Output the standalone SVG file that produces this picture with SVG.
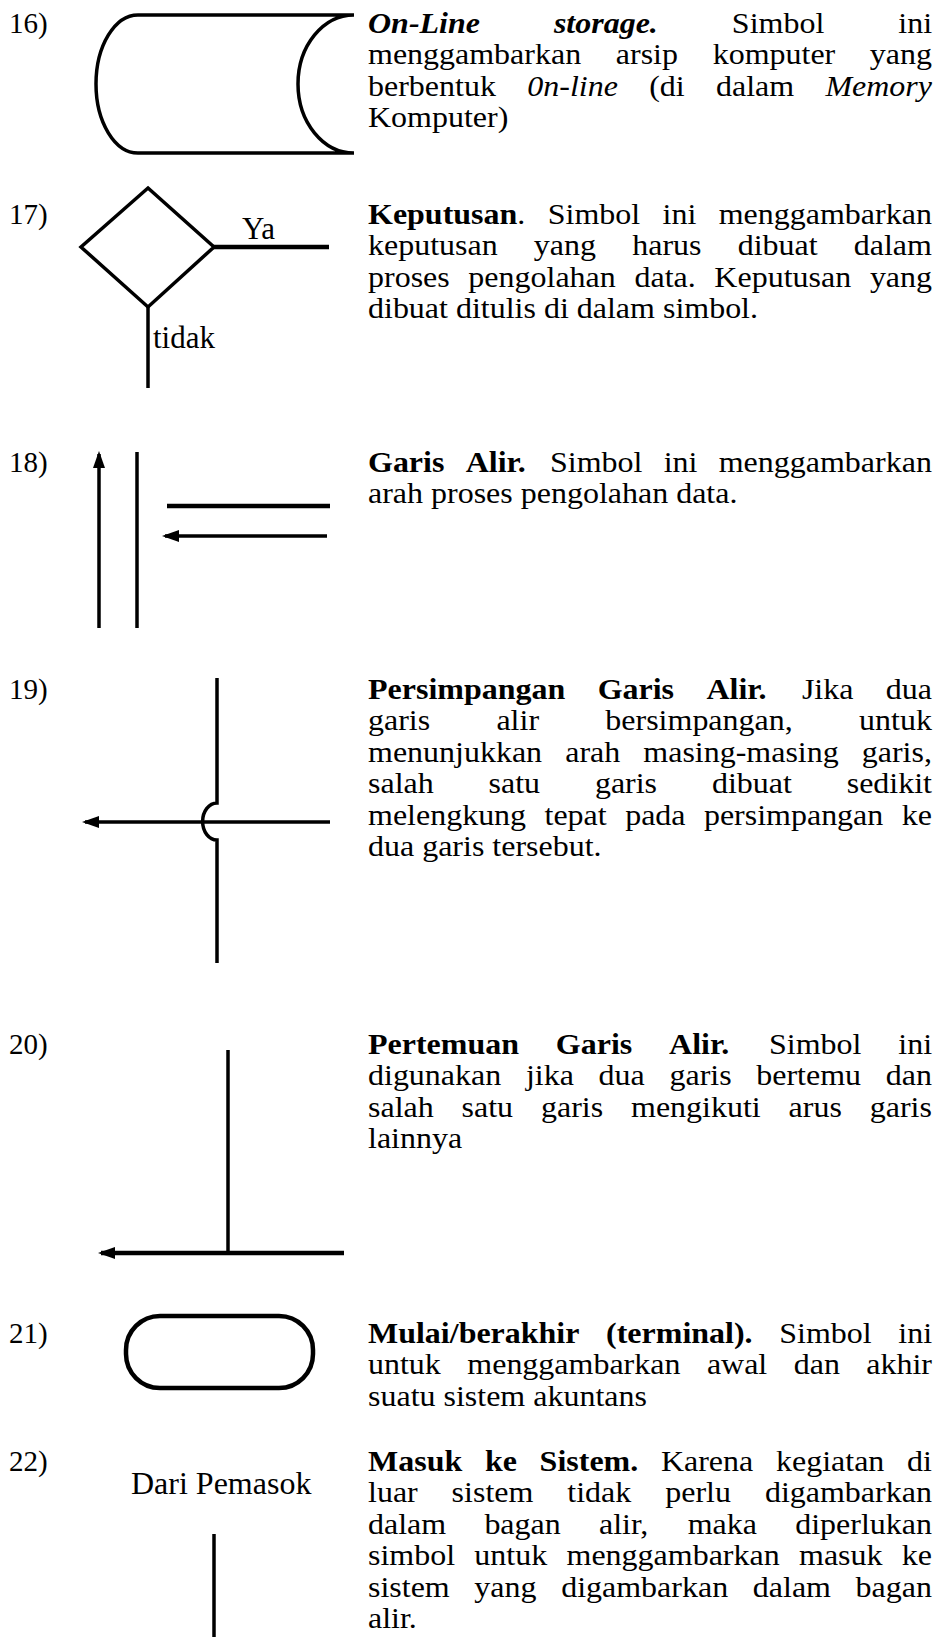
<svg xmlns="http://www.w3.org/2000/svg" width="936" height="1637" viewBox="0 0 936 1637">
<style>
text{font-family:"Liberation Serif","Times New Roman",serif;font-size:30px;fill:#000}
.num{font-size:29px}
.lab{font-size:31px}
.b{font-weight:bold}
.i{font-style:italic}
.bi{font-weight:bold;font-style:italic}
.s{fill:none;stroke:#000;stroke-width:3.5}
.w{fill:none;stroke:#000;stroke-width:4.5}
</style>
<defs>
<marker id="ah" markerUnits="userSpaceOnUse" markerWidth="18" markerHeight="14" refX="14" refY="6" orient="auto">
<path d="M0,0 L17,6 L0,12 Z" fill="#000"/>
</marker>
</defs>
<rect width="936" height="1637" fill="#fff"/>

<g id="item16">
<text class="num" x="9" y="33">16)</text>
<path class="s" d="M138,15 L354,15 A56,69 0 0 0 354,153 L138,153 A42,69 0 0 1 138,15 Z"/>
<g transform="translate(368,0) scale(1.0667,1)">
<text y="33"><tspan x="0" class="bi">On-Line</tspan><tspan x="174.3" class="bi">storage.</tspan><tspan x="341.1">Simbol</tspan><tspan x="497.1">ini</tspan></text>
<text y="64.5"><tspan x="0">menggambarkan</tspan><tspan x="232.3">arsip</tspan><tspan x="323.1">komputer</tspan><tspan x="470.4">yang</tspan></text>
<text y="96"><tspan x="0">berbentuk</tspan><tspan x="149.3" class="i">0n-line</tspan><tspan x="263.6">(di</tspan><tspan x="326.2">dalam</tspan><tspan x="428.8" class="i">Memory</tspan></text>
<text x="0" y="127.5">Komputer)</text>
</g>
</g>

<g id="item17">
<text class="num" x="9" y="224">17)</text>
<polygon class="s" points="148,188 214,247 148,307 81,247"/>
<text class="lab" x="242" y="239">Ya</text>
<text class="lab" x="153" y="348">tidak</text>
<g transform="translate(368,0) scale(1.0667,1)">
<text y="224"><tspan x="0" class="b">Keputusan</tspan>.<tspan x="168.5">Simbol</tspan><tspan x="276.2">ini</tspan><tspan x="328.8">menggambarkan</tspan></text>
<text y="255.5"><tspan x="0">keputusan</tspan><tspan x="155.5">yang</tspan><tspan x="247.7">harus</tspan><tspan x="346.6">dibuat</tspan><tspan x="455.4">dalam</tspan></text>
<text y="287"><tspan x="0">proses</tspan><tspan x="94.1">pengolahan</tspan><tspan x="249.8">data.</tspan><tspan x="324.7">Keputusan</tspan><tspan x="470.5">yang</tspan></text>
<text x="0" y="318.5">dibuat ditulis di dalam simbol.</text>
</g>
</g>

<g id="item18">
<text class="num" x="9" y="472">18)</text>
<g transform="translate(368,0) scale(1.0667,1)">
<text y="472"><tspan x="0" class="b">Garis</tspan><tspan x="91.6" class="b">Alir.</tspan><tspan x="170.6">Simbol</tspan><tspan x="277.2">ini</tspan><tspan x="328.8">menggambarkan</tspan></text>
<text x="0" y="503.5">arah proses pengolahan data.</text>
</g>
</g>

<g id="item19">
<text class="num" x="9" y="699">19)</text>
<g transform="translate(368,0) scale(1.0667,1)">
<text y="699"><tspan x="0" class="b">Persimpangan</tspan><tspan x="215.3" class="b">Garis</tspan><tspan x="317.3" class="b">Alir.</tspan><tspan x="406.8">Jika</tspan><tspan x="485.4">dua</tspan></text>
<text y="730.5"><tspan x="0">garis</tspan><tspan x="120.4">alir</tspan><tspan x="222.5">bersimpangan,</tspan><tspan x="460.4">untuk</tspan></text>
<text y="762"><tspan x="0">menunjukkan</tspan><tspan x="184.9">arah</tspan><tspan x="258.1">masing-masing</tspan><tspan x="462.9">garis,</tspan></text>
<text y="793.5"><tspan x="0">salah</tspan><tspan x="113">satu</tspan><tspan x="212.7">garis</tspan><tspan x="322.4">dibuat</tspan><tspan x="448.8">sedikit</tspan></text>
<text y="825"><tspan x="0">melengkung</tspan><tspan x="165.5">tepat</tspan><tspan x="241.1">pada</tspan><tspan x="314.9">persimpangan</tspan><tspan x="500.4">ke</tspan></text>
<text x="0" y="856.5">dua garis tersebut.</text>
</g>
</g>

<g id="item20">
<text class="num" x="9" y="1054">20)</text>
<g transform="translate(368,0) scale(1.0667,1)">
<text y="1054"><tspan x="0" class="b">Pertemuan</tspan><tspan x="176.1" class="b">Garis</tspan><tspan x="282.3" class="b">Alir.</tspan><tspan x="375.9">Simbol</tspan><tspan x="497.1">ini</tspan></text>
<text y="1085.5"><tspan x="0">digunakan</tspan><tspan x="148.1">jika</tspan><tspan x="216.2">dua</tspan><tspan x="282.6">garis</tspan><tspan x="364">bertemu</tspan><tspan x="485.4">dan</tspan></text>
<text y="1117"><tspan x="0">salah</tspan><tspan x="87.7">satu</tspan><tspan x="162.2">garis</tspan><tspan x="246.6">mengikuti</tspan><tspan x="394.3">arus</tspan><tspan x="470.4">garis</tspan></text>
<text x="0" y="1148.5">lainnya</text>
</g>
</g>

<g id="item21">
<text class="num" x="9" y="1343">21)</text>
<rect class="w" x="126" y="1316" width="187" height="72" rx="34" ry="34"/>
<g transform="translate(368,0) scale(1.0667,1)">
<text y="1343"><tspan x="0" class="b">Mulai/berakhir</tspan><tspan x="223.2" class="b">(terminal).</tspan><tspan x="385.5">Simbol</tspan><tspan x="497.1">ini</tspan></text>
<text y="1374.5"><tspan x="0">untuk</tspan><tspan x="93.1">menggambarkan</tspan><tspan x="317.7">awal</tspan><tspan x="399.1">dan</tspan><tspan x="467.1">akhir</tspan></text>
<text x="0" y="1406">suatu sistem akuntans</text>
</g>
</g>

<g id="item22">
<text class="num" x="9" y="1471">22)</text>
<text x="131" y="1494" style="font-size:32px">Dari Pemasok</text>
<g transform="translate(368,0) scale(1.0667,1)">
<text y="1471"><tspan x="0" class="b">Masuk</tspan><tspan x="109.6" class="b">ke</tspan><tspan x="160.9" class="b">Sistem.</tspan><tspan x="274.6">Karena</tspan><tspan x="382.5">kegiatan</tspan><tspan x="505.4">di</tspan></text>
<text y="1502.5"><tspan x="0">luar</tspan><tspan x="78.4">sistem</tspan><tspan x="186.9">tidak</tspan><tspan x="278.7">perlu</tspan><tspan x="372.1">digambarkan</tspan></text>
<text y="1534"><tspan x="0">dalam</tspan><tspan x="109.1">bagan</tspan><tspan x="216.5">alir,</tspan><tspan x="299.7">maka</tspan><tspan x="400.5">diperlukan</tspan></text>
<text y="1565.5"><tspan x="0">simbol</tspan><tspan x="99.7">untuk</tspan><tspan x="186.1">menggambarkan</tspan><tspan x="404.1">masuk</tspan><tspan x="500.4">ke</tspan></text>
<text y="1597"><tspan x="0">sistem</tspan><tspan x="99.7">yang</tspan><tspan x="181.1">digambarkan</tspan><tspan x="360.8">dalam</tspan><tspan x="457.1">bagan</tspan></text>
<text x="0" y="1628.5">alir.</text>
</g>
</g>

<g id="connectors">
<line class="w" x1="212" y1="247" x2="329" y2="247"/>
<line class="s" x1="148" y1="307" x2="148" y2="388"/>
<line class="s" x1="99" y1="628" x2="99" y2="454" marker-end="url(#ah)"/>
<line class="s" x1="137" y1="452" x2="137" y2="628"/>
<line class="w" x1="167" y1="506" x2="330" y2="506"/>
<line class="s" x1="327" y1="536" x2="165" y2="536" marker-end="url(#ah)"/>
<path class="s" d="M217,678 L217,803 A14,18 0 0 0 217,840 L217,963"/>
<line class="s" x1="330" y1="822" x2="85" y2="822" marker-end="url(#ah)"/>
<line class="s" x1="228" y1="1050" x2="228" y2="1253"/>
<line class="w" x1="344" y1="1253" x2="101" y2="1253" marker-end="url(#ah)"/>
<line class="s" x1="214" y1="1534" x2="214" y2="1637"/>
</g>
</svg>
